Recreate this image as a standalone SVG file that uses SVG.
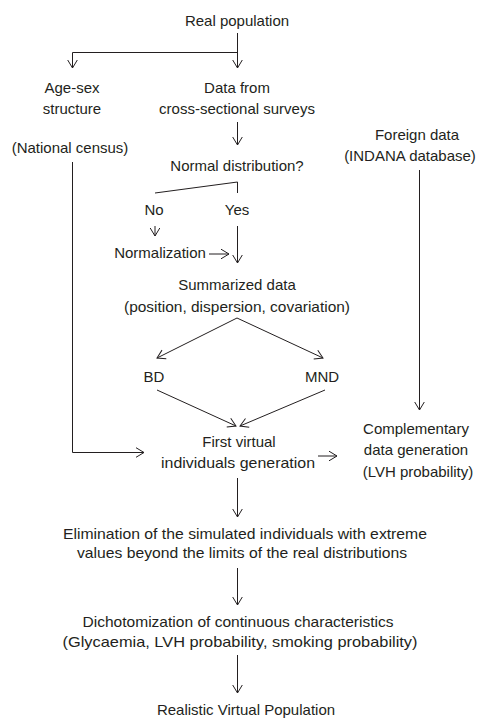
<svg xmlns="http://www.w3.org/2000/svg" width="478" height="718" viewBox="0 0 478 718">
<style>
text{font-family:"Liberation Sans",Arial,sans-serif;font-size:15px;fill:#231f20;text-anchor:middle}
.c line,.c polyline{stroke:#231f20;stroke-width:1;fill:none}
</style>
<defs>
<marker id="ah" markerUnits="userSpaceOnUse" markerWidth="12" markerHeight="12" refX="0" refY="0" viewBox="-9 -6 10 12" orient="auto" overflow="visible">
<path d="M-8,-4.8 L0,0 L-8,4.8" fill="none" stroke="#231f20" stroke-width="1"/>
</marker>
</defs>
<rect width="478" height="718" fill="#fff"/>
<g id="n-real"><text x="237" y="26">Real population</text></g>
<g id="n-agesex"><text x="72" y="93">Age-sex</text><text x="72" y="114">structure</text></g>
<g id="n-census"><text x="70" y="153">(National census)</text></g>
<g id="n-data"><text x="237" y="93">Data from</text><text x="237" y="114">cross-sectional surveys</text></g>
<g id="n-foreign"><text x="417" y="140">Foreign data</text><text x="410" y="161">(INDANA database)</text></g>
<g id="n-normal"><text x="237" y="171">Normal distribution?</text></g>
<g id="n-no"><text x="154" y="215">No</text></g>
<g id="n-yes"><text x="237" y="215">Yes</text></g>
<g id="n-normalization"><text x="160" y="258">Normalization</text></g>
<g id="n-summ"><text x="237" y="290">Summarized data</text><text x="237" y="312" textLength="226" lengthAdjust="spacingAndGlyphs">(position, dispersion, covariation)</text></g>
<g id="n-bd"><text x="154" y="382">BD</text></g>
<g id="n-mnd"><text x="322" y="382">MND</text></g>
<g id="n-first"><text x="239" y="447">First virtual</text><text x="238" y="468" textLength="154" lengthAdjust="spacingAndGlyphs">individuals generation</text></g>
<g id="n-compl"><text x="416" y="434">Complementary</text><text x="416" y="455">data generation</text></g>
<g id="n-lvh"><text x="418" y="477">(LVH probability)</text></g>
<g id="n-elim"><text x="245" y="539" textLength="364" lengthAdjust="spacingAndGlyphs">Elimination of the simulated individuals with extreme</text><text x="242" y="558" textLength="330" lengthAdjust="spacingAndGlyphs">values beyond the limits of the real distributions</text></g>
<g id="n-dich"><text x="238" y="627" textLength="311" lengthAdjust="spacingAndGlyphs">Dichotomization of continuous characteristics</text><text x="240" y="647" textLength="355" lengthAdjust="spacingAndGlyphs">(Glycaemia, LVH probability, smoking probability)</text></g>
<g id="n-realistic"><text x="246" y="715">Realistic Virtual Population</text></g>
<g id="connectors" class="c">
<line x1="237.5" y1="33" x2="237.5" y2="53"/>
<line x1="72.5" y1="52.5" x2="237.5" y2="52.5"/>
<line x1="72.5" y1="52.5" x2="72.5" y2="68" marker-end="url(#ah)"/>
<line x1="237.5" y1="52.5" x2="237.5" y2="68" marker-end="url(#ah)"/>
<line x1="237.5" y1="122" x2="237.5" y2="145" marker-end="url(#ah)"/>
<polyline points="155,193 237.5,182 237.5,193"/>
<line x1="155" y1="226" x2="155" y2="236" marker-end="url(#ah)"/>
<line x1="237.5" y1="226" x2="237.5" y2="263" marker-end="url(#ah)"/>
<line x1="209" y1="254" x2="229" y2="254" marker-end="url(#ah)"/>
<line x1="237" y1="318" x2="157" y2="358" marker-end="url(#ah)"/>
<line x1="237" y1="318" x2="323" y2="358" marker-end="url(#ah)"/>
<line x1="157" y1="390" x2="236" y2="426" marker-end="url(#ah)"/>
<line x1="325" y1="390" x2="240" y2="426" marker-end="url(#ah)"/>
<polyline points="72.5,162 72.5,452.5 144,452.5" marker-end="url(#ah)"/>
<line x1="318" y1="456" x2="337" y2="456" marker-end="url(#ah)"/>
<line x1="419.5" y1="170" x2="419.5" y2="410" marker-end="url(#ah)"/>
<line x1="237.5" y1="478" x2="237.5" y2="517" marker-end="url(#ah)"/>
<line x1="237.5" y1="568" x2="237.5" y2="605" marker-end="url(#ah)"/>
<line x1="237.5" y1="655" x2="237.5" y2="693" marker-end="url(#ah)"/>
</g>
</svg>
